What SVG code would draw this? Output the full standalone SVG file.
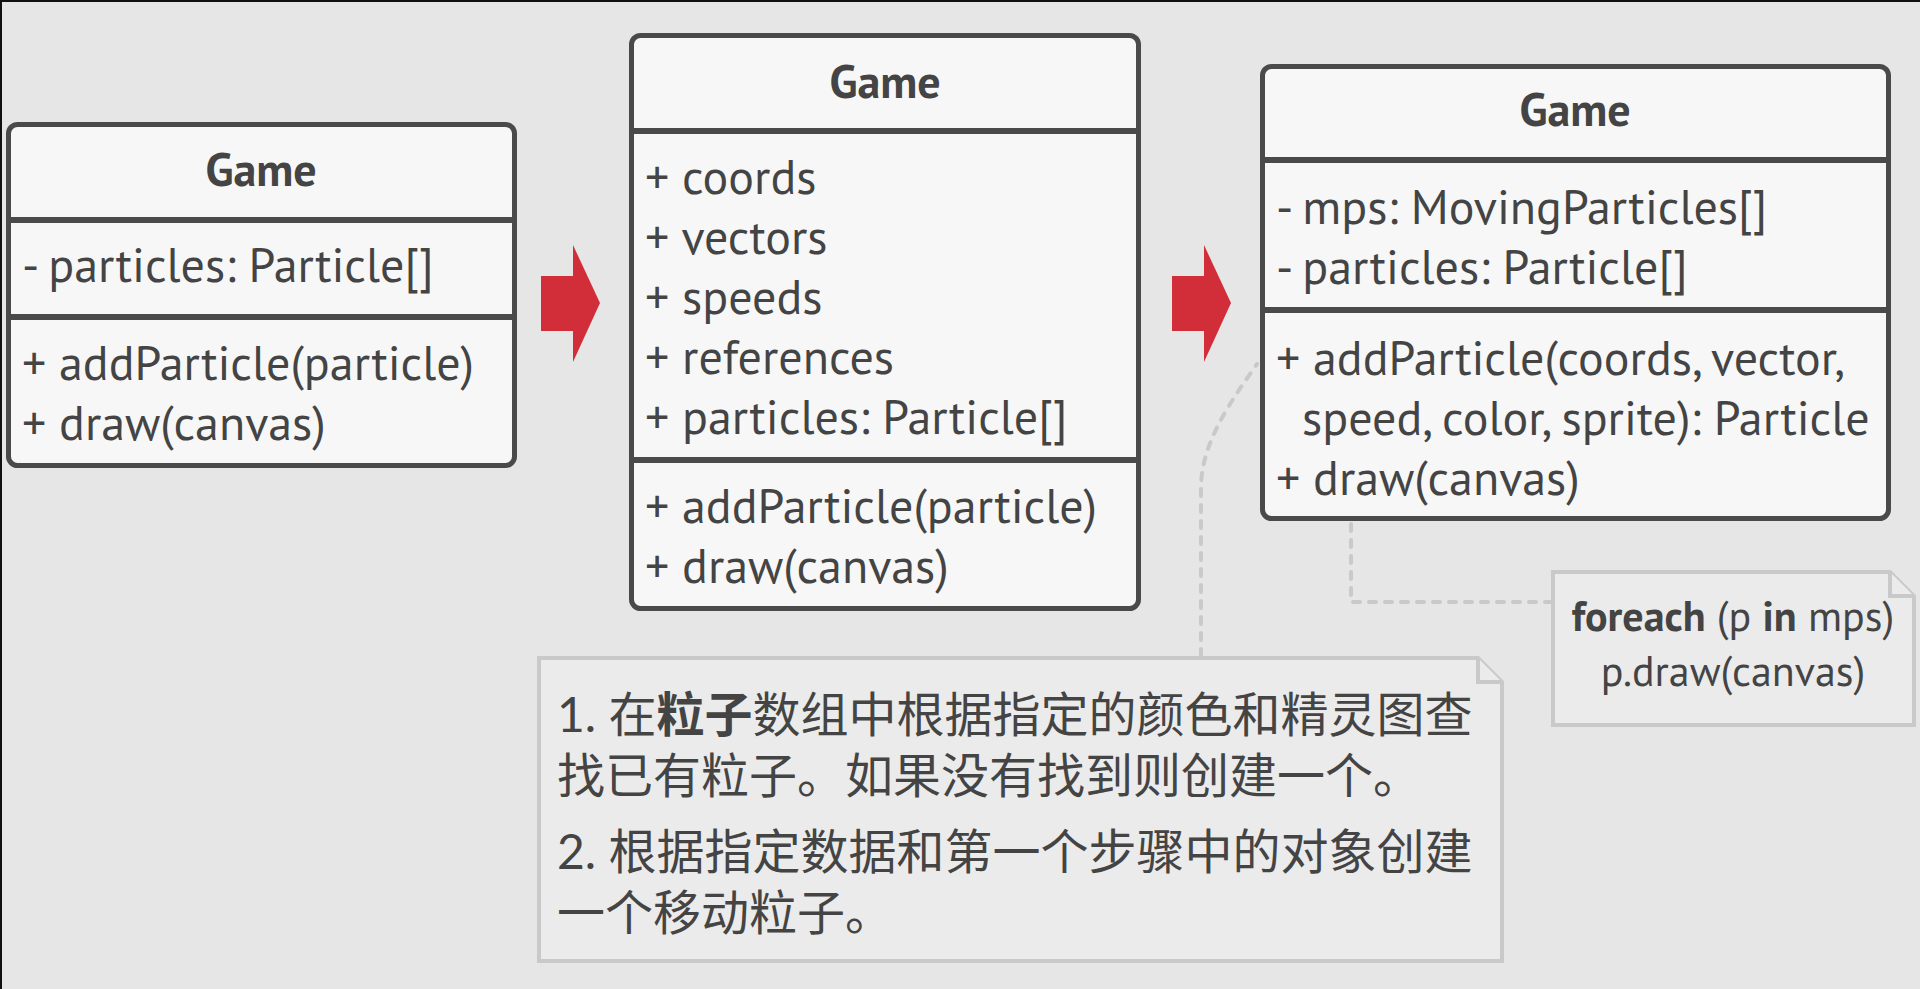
<svg xmlns="http://www.w3.org/2000/svg" width="1920" height="989" viewBox="0 0 1920 989">
<style>
.box{fill:#f7f7f7;stroke:#4a4a4a;stroke-width:5}
.sep{stroke:#4a4a4a;stroke-width:6}
.t{font-family:"PT Sans",Lato,"Noto Sans",sans-serif;font-size:48px;fill:#444}
.title{font-family:"PT Sans",Lato,"Noto Sans",sans-serif;font-size:46px;font-weight:bold;fill:#444;text-anchor:middle}
.arrow{fill:#d22e3a}
.note{fill:#ebebeb;stroke:#c9c9c9;stroke-width:4;stroke-linejoin:miter}
.dash{fill:none;stroke:#c9c9c9;stroke-width:4;stroke-dasharray:7 9;stroke-linecap:round}
.cjk{font-family:Lato,"Noto Sans CJK SC",sans-serif;font-size:48px;fill:#444}
.nt{font-family:"PT Sans",Lato,"Noto Sans",sans-serif;font-size:42px;fill:#444;text-anchor:middle}
</style>
<rect x="0" y="0" width="1920" height="989" fill="#e6e6e6"/>
<path d="M0,1 H1920 M1,0 V989" stroke="#111" stroke-width="2" fill="none"/>
<g id="connectors">
<path class="dash" d="M1201,656 V488 C1201,445 1228,405 1257,364"/>
<path class="dash" d="M1351,524 V602 H1551"/>
<polygon class="arrow" points="541,276 573,276 573,245 600,303 573,362 573,331 541,331"/>
<polygon class="arrow" points="1172,276 1204,276 1204,245 1231,303 1204,362 1204,331 1172,331"/>
</g>
<g id="game1">
<rect class="box" x="8.5" y="124.5" width="506" height="341" rx="9"/>
<line class="sep" x1="8" y1="220" x2="515" y2="220"/>
<line class="sep" x1="8" y1="317" x2="515" y2="317"/>
<text class="title" x="261" y="186">Game</text>
<text class="t" x="22" y="282">- particles: Particle[]</text>
<text class="t" x="22" y="380">+ addParticle(particle)</text>
<text class="t" x="22" y="440">+ draw(canvas)</text>
</g>
<g id="game2">
<rect class="box" x="631.5" y="35.5" width="507" height="573" rx="9"/>
<line class="sep" x1="631" y1="131" x2="1139" y2="131"/>
<line class="sep" x1="631" y1="460" x2="1139" y2="460"/>
<text class="title" x="885" y="98">Game</text>
<text class="t" x="645" y="194">+ coords</text>
<text class="t" x="645" y="254">+ vectors</text>
<text class="t" x="645" y="314">+ speeds</text>
<text class="t" x="645" y="374">+ references</text>
<text class="t" x="645" y="434">+ particles: Particle[]</text>
<text class="t" x="645" y="523">+ addParticle(particle)</text>
<text class="t" x="645" y="583">+ draw(canvas)</text>
</g>
<g id="game3">
<rect class="box" x="1262.5" y="66.5" width="626" height="452" rx="9"/>
<line class="sep" x1="1262" y1="160" x2="1889" y2="160"/>
<line class="sep" x1="1262" y1="310" x2="1889" y2="310"/>
<text class="title" x="1575" y="126">Game</text>
<text class="t" x="1276" y="224">- mps: MovingParticles[]</text>
<text class="t" x="1276" y="284">- particles: Particle[]</text>
<text class="t" x="1276" y="375">+ addParticle(coords, vector,</text>
<text class="t" x="1302" y="435">speed, color, sprite): Particle</text>
<text class="t" x="1276" y="495">+ draw(canvas)</text>
</g>
<g id="note1">
<path class="note" d="M539,658 H1478 L1502,682 V961 H539 Z"/>
<path class="note" d="M1478,658 V682 H1502"/>
<text class="cjk" x="557" y="732">1. 在<tspan font-weight="bold">粒子</tspan>数组中根据指定的颜色和精灵图查</text>
<text class="cjk" x="557" y="793">找已有粒子。如果没有找到则创建一个。</text>
<text class="cjk" x="557" y="869">2. 根据指定数据和第一个步骤中的对象创建</text>
<text class="cjk" x="557" y="930">一个移动粒子。</text>
</g>
<g id="note2">
<path class="note" d="M1553,572 H1890 L1914,596 V725 H1553 Z"/>
<path class="note" d="M1890,572 V596 H1914"/>
<text class="nt" x="1733" y="631"><tspan font-weight="bold">foreach</tspan> (p <tspan font-weight="bold">in</tspan> mps)</text>
<text class="nt" x="1733" y="686">p.draw(canvas)</text>
</g>
</svg>
